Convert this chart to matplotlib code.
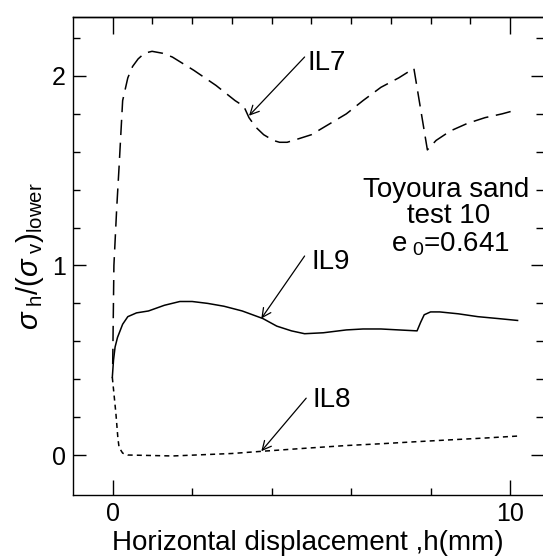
import matplotlib
matplotlib.use("Agg")
import matplotlib.pyplot as plt
from matplotlib.ticker import FixedLocator, NullFormatter

plt.rcParams['font.family'] = ['Liberation Sans', 'DejaVu Sans']
plt.rcParams['mathtext.fontset'] = 'custom'
plt.rcParams['mathtext.rm'] = 'Liberation Sans'
plt.rcParams['mathtext.it'] = 'Liberation Sans:italic'
plt.rcParams['mathtext.bf'] = 'Liberation Sans:bold'

# IL7 (long dashed)
il7_x = [0.0, 0.03, 0.10, 0.16, 0.25, 0.38, 0.50, 0.64, 0.80, 0.99, 1.25, 1.5, 2.04, 2.6,
         3.08, 3.3, 3.43, 3.6, 3.8, 4.04, 4.2, 4.39, 4.7, 5.0, 5.4, 5.88, 6.3, 6.75, 7.2,
         7.58, 7.92, 8.14, 8.5, 8.93, 9.37, 9.8, 10.15]
il7_y = [0.48, 1.00, 1.30, 1.52, 1.87, 1.99, 2.05, 2.09, 2.12, 2.13, 2.12, 2.10, 2.03, 1.95,
         1.87, 1.84, 1.78, 1.73, 1.69, 1.66, 1.65, 1.65, 1.67, 1.69, 1.74, 1.80, 1.87, 1.94,
         1.99, 2.04, 1.61, 1.66, 1.71, 1.75, 1.78, 1.80, 1.82]

# IL9 (solid)
il9_x = [-0.01, 0.02, 0.06, 0.12, 0.25, 0.38, 0.60, 0.90, 1.3, 1.69, 2.0, 2.39, 2.8, 3.26,
         3.78, 4.13, 4.5, 4.83, 5.3, 5.88, 6.3, 6.75, 7.2, 7.66, 7.75, 7.84, 8.0, 8.23,
         8.7, 9.19, 9.7, 10.19]
il9_y = [0.41, 0.50, 0.57, 0.62, 0.69, 0.73, 0.75, 0.76, 0.79, 0.81, 0.81, 0.80, 0.785, 0.76,
         0.72, 0.68, 0.655, 0.64, 0.645, 0.66, 0.665, 0.665, 0.66, 0.655, 0.70, 0.74, 0.755,
         0.755, 0.745, 0.73, 0.72, 0.71]

# IL8 (short dashed)
il8_x = [-0.01, 0.08, 0.13, 0.16, 0.25, 0.38, 1.51, 3.0, 3.78, 4.8, 5.88, 6.8, 7.62, 8.49,
         9.4, 10.19]
il8_y = [0.41, 0.22, 0.09, 0.04, 0.01, 0.0, -0.005, 0.008, 0.02, 0.035, 0.05, 0.06, 0.07,
         0.08, 0.09, 0.10]

labels = ['IL7', 'IL9', 'IL8']
label_xy = [(4.91, 2.07), (5.0, 1.02), (5.04, 0.29)]
arrow_tail = [(4.83, 2.10), (4.83, 1.05), (4.87, 0.30)]
arrow_head = [(3.43, 1.79), (3.74, 0.72), (3.74, 0.02)]

x_major = [0, 10]
x_minor = [2, 4, 6, 8]
x_top = [0, 1, 2, 3, 4, 5, 6, 7, 8, 9, 10]
y_major = [0, 1, 2]
y_minor = [0.2, 0.4, 0.6, 0.8, 1.2, 1.4, 1.6, 1.8, 2.2]

fig = plt.figure(figsize=(5.43, 5.56), dpi=100)
ax = fig.add_axes([0.1344, 0.1097, 0.8656, 0.8597])

lw = 1.1
ax.plot(il7_x, il7_y, color='black', lw=lw, linestyle=(0, (10, 5)))
ax.plot(il9_x, il9_y, color='black', lw=lw, linestyle='-')
ax.plot(il8_x, il8_y, color='black', lw=lw, linestyle=(0, (3.3, 2.7)))

for lab, (tx, ty), tail, head in zip(labels, label_xy, arrow_tail, arrow_head):
    ax.annotate('', xy=head, xytext=tail,
                arrowprops=dict(arrowstyle='->', color='black', lw=0.9,
                                shrinkA=0, shrinkB=0, mutation_scale=16))
    ax.text(tx, ty, lab, fontsize=20, ha='left', va='center')

ax.text(8.38, 1.40, 'Toyoura sand', fontsize=20, ha='center', va='center')
ax.text(8.45, 1.26, 'test 10', fontsize=20, ha='center', va='center')
ax.text(8.49, 1.11, r'e$_{\ 0}$=0.641', fontsize=20, ha='center', va='center')

ax.set_xlim(-1.0, 10.83)
ax.set_ylim(-0.211, 2.311)

ax.set_xticks(x_major)
ax.set_xticks(x_minor, minor=True)
ax.set_yticks(y_major)
ax.set_yticks(y_minor, minor=True)
ax.tick_params(axis='both', which='major', direction='in', length=11, width=1.0,
               labelsize=18, pad=5)
ax.tick_params(axis='both', which='minor', direction='in', length=5, width=1.0)
ax.tick_params(axis='y', which='major', length=9)
ax.tick_params(axis='y', which='both', right=True)

# top ticks via secondary axis
top = ax.secondary_xaxis('top')
top.set_xticks(x_major)
top.xaxis.set_minor_locator(FixedLocator(x_top))
top.tick_params(which='major', direction='in', length=12, width=1.0, labeltop=False)
top.tick_params(which='minor', direction='in', length=5, width=1.0)
top.xaxis.set_minor_formatter(NullFormatter())
top.spines['top'].set_linewidth(1.0)

ax.spines['right'].set_visible(False)
for s in ['left', 'bottom', 'top']:
    ax.spines[s].set_linewidth(1.0)

ax.set_xlabel('Horizontal displacement ,h(mm)', fontsize=20, labelpad=3)
ax.set_ylabel(r'$\sigma_{\ \mathrm{h}}/(\sigma_{\ \mathrm{v}})_{\mathrm{lower}}$', fontsize=21, labelpad=4)

fig.savefig('out.png', dpi=100)
